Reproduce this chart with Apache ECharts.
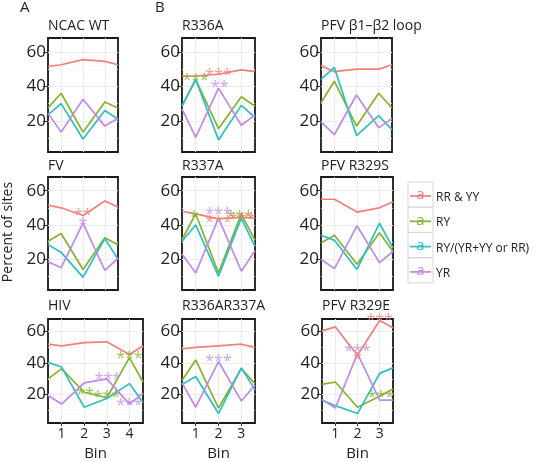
<!DOCTYPE html>
<html>
<head>
<meta charset="utf-8">
<script src="https://cdn.jsdelivr.net/npm/echarts@6/dist/echarts.min.js"></script>
<style>html,body{margin:0;padding:0;background:#fff;}#c{width:551px;height:462px;}</style>
</head>
<body>
<div id="c"></div>
<script>
// ---------- data ----------
const panelNames = ['NCAC WT', 'R336A', 'PFV \u03b21\u2013\u03b22 loop', 'FV', 'R337A', 'PFV R329S', 'HIV', 'R336AR337A', 'PFV R329E'];
const seriesNames = ['RR & YY', 'RY', 'RY/(YR+YY or RR)', 'YR'];
const binsX3 = [0.4, 1, 2, 3, 3.6];          // panel edge, bins 1-3, panel edge
const binsX4 = [0.4, 1, 2, 3, 4, 4.6];       // panel edge, bins 1-4, panel edge
const binTicks3 = [1, 2, 3];
const binTicks4 = [1, 2, 3, 4];
const yTicks = [20, 40, 60];
const yGrid = [10, 20, 30, 40, 50, 60];

// values: [RR & YY, RY, RY/(YR+YY or RR), YR]
const ncacWT = [
  [51.5, 52.5, 55.5, 54.5, 52.5],
  [27.5, 36, 13.5, 31, 27.5],
  [23.5, 30, 9.5, 26, 21],
  [24.5, 13.5, 32.5, 17, 21.5]
];
const r336A = [
  [46, 46, 47, 49.5, 48.5],
  [28.5, 44, 15.5, 34, 28.5],
  [28.5, 44, 9, 29, 22],
  [27, 10.5, 39, 17.5, 23.5]
];
const pfvLoop = [
  [52, 48.5, 50, 50, 52.5],
  [30.5, 43, 17, 36, 27.5],
  [44, 51, 11.5, 23, 15],
  [19.5, 12, 35, 16, 21.5]
];
const fv = [
  [51.5, 50, 45.5, 54, 50.5],
  [30.5, 35, 14, 32.5, 28.5],
  [28.5, 24, 9.5, 32, 20],
  [18.5, 15, 41, 13.5, 20.5]
];
const r337A = [
  [48, 46.5, 43.5, 44.5, 44],
  [31.5, 46.5, 12, 46.5, 31],
  [30.5, 40, 10, 44, 27.5],
  [23, 12, 44, 13, 25]
];
const pfvR329S = [
  [55, 55, 47.5, 50, 53.5],
  [29.5, 34, 17, 35.5, 24.5],
  [34, 31, 14, 41, 26.5],
  [20, 14.5, 39.5, 18, 24.5]
];
const hiv = [
  [52, 51, 53, 53.5, 45.5, 51],
  [30, 36.5, 21.5, 18, 43.5, 28],
  [40.5, 37.5, 12, 17.5, 27, 15],
  [19.5, 14, 27.5, 30, 14, 21]
];
const r336AR337A = [
  [49, 50, 51, 52, 50],
  [29, 42, 11.5, 36.5, 27],
  [26.5, 31.5, 8, 37, 23],
  [27.5, 12, 41, 16, 26]
];
const pfvR329E = [
  [60.5, 63, 45, 67, 62.5],
  [26.5, 28, 12, 19, 23.5],
  [16.5, 13, 8, 33.5, 37],
  [17, 11.5, 46, 16.5, 16.5]
];

// significance marks: [bin, percent, text, series index]
const starsNcacWT = [];
const starsR336A = [[1.0, 46, '***', 1], [2.0, 48.8, '***', 0], [2.05, 41.8, '**', 3]];
const starsPfvLoop = [];
const starsFV = [[2.0, 47.6, '**', 0], [2.0, 42.4, '*', 3]];
const starsR337A = [[2.0, 48.2, '***', 3], [2.0, 43.7, '***', 0], [0.93, 46.5, '*', 1], [2.93, 46.5, '***', 1], [3.05, 45.6, '***', 0]];
const starsPfvR329S = [];
const starsHIV = [[4.0, 45.4, '***', 1], [3.05, 32.1, '***', 3], [2.05, 22.6, '**', 1], [3.0, 20.6, '***', 1], [4.0, 15.6, '***', 3]];
const starsR336AR337A = [[2.0, 43.8, '***', 3]];
const starsPfvR329E = [[3.0, 69.5, '***', 0], [2.0, 50, '***', 3], [2.0, 45, '*', 0], [3.05, 20.7, '***', 1]];

// ---------- layout / style ----------
const colors = ['#F47F78', '#86B22E', '#2BC0C6', '#C08AE8'];
const FONT = '"Open Sans", "Noto Sans", sans-serif';
const panelValues = [ncacWT, r336A, pfvLoop, fv, r337A, pfvR329S, hiv, r336AR337A, pfvR329E];
const panelStars = [starsNcacWT, starsR336A, starsPfvLoop, starsFV, starsR337A, starsPfvR329S, starsHIV, starsR336AR337A, starsPfvR329E];
const panelX = [binsX3, binsX3, binsX3, binsX3, binsX3, binsX3, binsX4, binsX3, binsX3];
const panelTicks = [binTicks3, binTicks3, binTicks3, binTicks3, binTicks3, binTicks3, binTicks4, binTicks3, binTicks3];
const gridBoxes = [
  [48, 38, 70, 114], [182, 38, 73, 114], [321, 38, 71, 114],
  [48, 177, 70, 113], [182, 177, 73, 113], [321, 177, 72, 113],
  [48, 319, 95, 113], [182, 319, 73, 113], [322, 319, 71, 113]
];
const titleCenterY = [28, 28, 28, 168, 168, 168, 308, 308, 308];

const grid = [], xAxis = [], yAxis = [], series = [], graphic = [];

panelValues.forEach(function (vals, p) {
  const b = gridBoxes[p];
  const xs = panelX[p];
  const ticks = panelTicks[p];
  const bottom = p >= 6;
  grid.push({ left: b[0], top: b[1], width: b[2], height: b[3], show: true, borderColor: '#1a1a1a', borderWidth: 1.8, backgroundColor: '#fff', containLabel: false });
  xAxis.push({
    type: 'value', gridIndex: p, min: xs[0], max: xs[xs.length - 1],
    axisLine: { show: false }, splitLine: { show: false },
    axisTick: { show: bottom, customValues: ticks, length: 3, lineStyle: { color: '#333' } },
    axisLabel: { show: bottom, customValues: ticks, fontSize: 14, color: '#222', margin: 4, fontFamily: FONT },
    name: bottom ? 'Bin' : '', nameLocation: 'middle', nameGap: 23,
    nameTextStyle: { fontSize: 15, color: '#222', fontFamily: FONT }
  });
  yAxis.push({
    type: 'value', gridIndex: p, min: 2, max: 68,
    axisLine: { show: false }, splitLine: { show: false },
    axisTick: { show: true, customValues: yTicks, length: 5, lineStyle: { color: '#333', width: 1 } },
    axisLabel: { show: true, customValues: yTicks, fontSize: 17, color: '#222', margin: 2, fontFamily: FONT }
  });
  const xGrid = [];
  ticks.forEach(function (t) { xGrid.push(t); });
  vals.forEach(function (v, s) {
    const item = {
      type: 'line', name: seriesNames[s], xAxisIndex: p, yAxisIndex: p,
      data: xs.map(function (x, k) { return [x, v[k]]; }),
      symbol: 'none', showSymbol: false, smooth: false, clip: true, silent: true, z: 3,
      lineStyle: { color: colors[s], width: 1.7 }, itemStyle: { color: colors[s] }
    };
    if (s === 0) {
      const ml = [];
      yGrid.forEach(function (g) {
        const major = g % 20 === 0;
        ml.push({ yAxis: g, lineStyle: { color: major ? '#EBEBEB' : '#F5F5F5', width: major ? 1 : 0.7, type: 'solid' } });
      });
      xGrid.forEach(function (g) {
        ml.push({ xAxis: g, lineStyle: { color: '#EBEBEB', width: 1, type: 'solid' } });
      });
      item.markLine = { silent: true, symbol: ['none', 'none'], z: 1, animation: false, label: { show: false }, data: ml };
    }
    series.push(item);
  });
  const st = panelStars[p];
  if (st.length) {
    series.push({
      type: 'scatter', xAxisIndex: p, yAxisIndex: p, symbolSize: 0, clip: false, silent: true, z: 6,
      data: st.map(function (a) {
        return {
          value: [a[0], a[1]],
          label: { show: true, position: 'inside', formatter: a[2], color: colors[a[3]], fontSize: 16, fontFamily: FONT, offset: [0, 4] }
        };
      })
    });
  }
  graphic.push({ type: 'text', left: b[0], top: titleCenterY[p] - 9, style: { text: panelNames[p], fontSize: 14, fontFamily: FONT, fill: '#222' } });
});

// panel letters and axis title
graphic.push({ type: 'text', left: 20, top: 0, style: { text: 'A', fontSize: 15, fontFamily: FONT, fill: '#222' } });
graphic.push({ type: 'text', left: 155, top: 0, style: { text: 'B', fontSize: 15, fontFamily: FONT, fill: '#222' } });
graphic.push({ type: 'text', x: 8, y: 232, rotation: Math.PI / 2, style: { text: 'Percent of sites', fontSize: 14, fontFamily: FONT, fill: '#222', align: 'center', verticalAlign: 'middle' } });

// legend (ggplot-style text keys)
seriesNames.forEach(function (n, i) {
  const top = 182 + i * 25.3;
  graphic.push({ type: 'rect', shape: { x: 408, y: top, width: 25, height: 25 }, style: { fill: '#fff', stroke: '#D6D6D6', lineWidth: 1 } });
  graphic.push({ type: 'line', shape: { x1: 410, y1: top + 14, x2: 431, y2: top + 14 }, style: { stroke: colors[i], lineWidth: 1.7 } });
  graphic.push({ type: 'text', x: 420.5, y: top + 13, style: { text: 'a', fontSize: 15, fontFamily: FONT, fill: colors[i], align: 'center', verticalAlign: 'middle' } });
  graphic.push({ type: 'text', x: 436, y: top + 15.5, style: { text: n, fontSize: 12, fontFamily: FONT, fill: '#222', align: 'left', verticalAlign: 'middle' } });
});

const chart = echarts.init(document.getElementById('c'), null, { renderer: 'canvas' });
chart.setOption({
  animation: false,
  backgroundColor: '#fff',
  textStyle: { fontFamily: FONT },
  grid: grid, xAxis: xAxis, yAxis: yAxis, series: series, graphic: graphic
});
</script>
</body>
</html>
